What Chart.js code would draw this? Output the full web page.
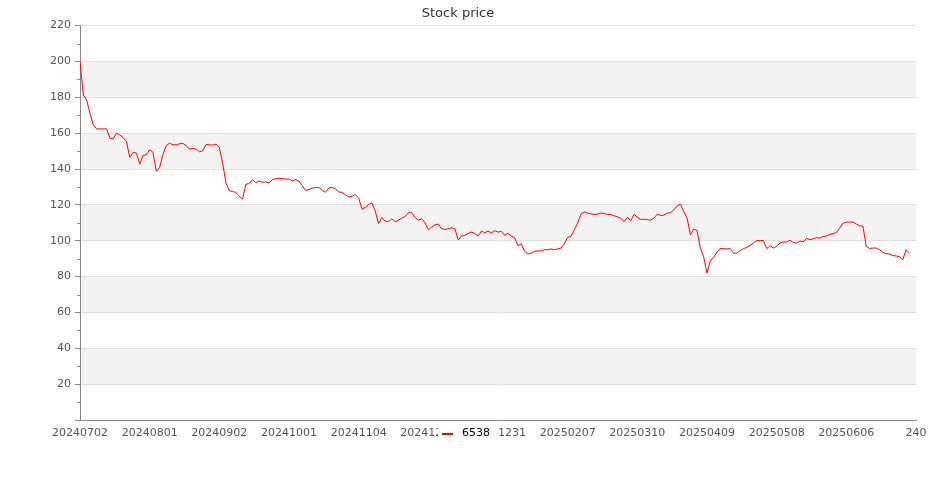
<!DOCTYPE html>
<html>
<head>
<meta charset="utf-8">
<script src="https://cdn.jsdelivr.net/npm/chart.js@4.4.1/dist/chart.umd.min.js"></script>
<style>
  body { margin: 0; background: #fff; }
</style>
</head>
<body>
<canvas id="myChart" width="935" height="500"></canvas>
<script>
// tick labels under the x axis, one every 21 trading days
const tickLabels = [
    '20240702', '20240801', '20240902', '20241001', '20241104', '20241203',
    '20241231', '20250207', '20250310', '20250409', '20250508', '20250606', '240',
];
const tickStep = 21;
const seriesName = '6538';
// daily close
const prices = [
    200, 181.3, 178.5, 171.1, 164.6, 162.4, 162.4, 162.4, 162.4, 157.2,
    156.9, 160, 159, 157.6, 155.4, 146.5, 149.3, 148.9, 142.8, 147.6,
    148, 150.7, 149.4, 138.7, 140.9, 148, 153.1, 154.4, 153.5, 153.5,
    154.1, 154.3, 153.1, 151.1, 151.5, 151.1, 149.6, 150.2, 153.7, 153.5,
    153.3, 153.9, 152, 143.3, 132.2, 128, 127.4, 127, 124.8, 123.3,
    131.5, 131.9, 134, 132.4, 133.3, 132.6, 132.8, 132.2, 134.1, 134.6,
    134.8, 134.6, 134.4, 134.4, 133.3, 134.1, 133.3, 130.7, 128.1, 128.5,
    129.4, 129.6, 129.8, 128.1, 127, 129.4, 129.8, 128.9, 127.2, 127,
    125.6, 124.4, 124.8, 125.7, 123.9, 117.8, 118.5, 120.2, 121.1, 116.5,
    109.6, 113, 110.9, 110.7, 112.2, 110.6, 111.5, 112.6, 113.5, 115.6,
    115.6, 113, 111.5, 112.2, 110, 106.1, 107.6, 108.9, 109.3, 106.7,
    106.3, 106.7, 107.2, 106.7, 100.4, 102.6, 103, 104.1, 104.8, 104.1,
    102.6, 105.4, 104.4, 105.4, 104.4, 105.6, 104.8, 105.2, 103.1, 104.1,
    102.6, 101.7, 97.2, 98.3, 94.1, 92.6, 93.1, 94.1, 94.3, 94.3,
    95, 95, 95.4, 95, 95.4, 95.9, 98.3, 101.9, 102.4, 106.1,
    109.8, 114.8, 116.1, 115.4, 115, 114.6, 114.8, 115.4, 115.2, 114.6,
    114.6, 113.9, 113.3, 112.6, 110.6, 113.1, 111.1, 114.8, 113.1, 111.9,
    112, 111.7, 111.5, 112.6, 114.8, 114.1, 114.3, 115.4, 115.6, 117.2,
    119.4, 120.4, 116.3, 112.6, 103.3, 106.5, 105.7, 95.9, 91, 82,
    89, 90.7, 93.7, 95.7, 95.6, 95.4, 95.6, 93.1, 93, 94.6,
    95.6, 96.3, 97.4, 98.7, 100.2, 100, 100.2, 95.6, 97.2, 95.9,
    96.9, 98.7, 99.3, 99.3, 100.2, 99.1, 98.7, 99.8, 99.4, 101.3,
    100.6, 101.1, 101.7, 101.5, 102.4, 102.6, 103.5, 103.9, 104.6, 107,
    109.8, 110.4, 110.4, 110.4, 109.3, 108.3, 108.1, 96.9, 95.7, 95.9,
    95.9, 95, 93.5, 92.8, 92.6, 91.7, 91.5, 91.1, 89.4, 95, 93.1,
];

Chart.defaults.font.family = '"DejaVu Sans", sans-serif';

// grey bands every other 20 step
const bands = {
    id: 'bands',
    beforeDraw(chart) {
        const { ctx, chartArea: a, scales: { y } } = chart;
        ctx.save();
        ctx.fillStyle = '#f3f3f3';
        for (let v = 20; v < y.max; v += 40) {
            const top = y.getPixelForValue(v + 20);
            const bottom = y.getPixelForValue(v);
            ctx.fillRect(a.left, top, a.right - a.left, bottom - top);
        }
        ctx.restore();
    }
};

// short minor ticks + legend drawn over the axis labels
const overlay = {
    id: 'overlay',
    afterDraw(chart) {
        const { ctx, chartArea: a, scales: { y } } = chart;
        ctx.save();
        ctx.strokeStyle = '#888';
        ctx.lineWidth = 1;
        y.ticks.forEach(t => {
            if (t.value % 20 !== 0) {
                const py = Math.round(y.getPixelForValue(t.value)) + 0.5;
                ctx.beginPath();
                ctx.moveTo(a.left - 3, py);
                ctx.lineTo(a.left, py);
                ctx.stroke();
            }
        });

        const ds = chart.data.datasets[0];
        ctx.fillStyle = '#fff';
        ctx.fillRect(438, 426, 59, 16);
        ctx.strokeStyle = ds.borderColor;
        ctx.lineWidth = 2;
        ctx.beginPath();
        ctx.moveTo(442, 434);
        ctx.lineTo(453, 434);
        ctx.stroke();
        ctx.fillStyle = '#000';
        ctx.font = '11px "DejaVu Sans"';
        ctx.textBaseline = 'middle';
        ctx.fillText(ds.label, 462, 433);
        ctx.restore();
    }
};

const ctx = document.getElementById('myChart').getContext('2d');
const myChart = new Chart(ctx, {
    type: 'line',
    data: {
        datasets: [{
            label: seriesName,
            data: prices.map((v, i) => ({ x: i, y: v })),
            borderColor: '#ff0000',
            borderWidth: 1,
            pointRadius: 0,
            tension: 0,
            fill: false,
        }],
    },
    options: {
        responsive: false,
        animation: false,
        layout: { padding: { left: 0, right: 19, top: 0, bottom: 0 } },
        plugins: {
            legend: { display: false },
            tooltip: { enabled: false },
            title: {
                display: true,
                text: 'Stock price',
                color: '#333',
                font: { size: 13, weight: 'normal' },
                padding: { top: 6, bottom: 4 },
            },
        },
        scales: {
            x: {
                type: 'linear',
                min: 0,
                max: tickStep * (tickLabels.length - 1),
                afterBuildTicks: (s) => {
                    s.ticks = tickLabels.map((_, k) => ({ value: k * tickStep }));
                },
                afterFit: (s) => { s.height = 80; },
                ticks: {
                    autoSkip: false,
                    maxRotation: 0,
                    color: '#555',
                    font: { size: 11 },
                    padding: 7,
                    callback: (v) => tickLabels[Math.round(v / tickStep)],
                },
                grid: { display: false, drawTicks: false },
                border: { color: '#888' },
            },
            y: {
                min: 0,
                max: 220,
                afterFit: (s) => { s.width = 80; },
                ticks: {
                    stepSize: 10,
                    autoSkip: false,
                    color: '#555',
                    font: { size: 11 },
                    padding: 4,
                    callback: (v) => (v > 0 && v % 20 === 0) ? v : '',
                },
                grid: {
                    color: (c) => (c.tick && c.tick.value > 0 && c.tick.value % 20 === 0) ? '#e0e0e0' : 'rgba(0,0,0,0)',
                    tickLength: 5,
                    tickColor: (c) => (c.tick && c.tick.value % 20 === 0) ? '#888' : 'rgba(0,0,0,0)',
                },
                border: { color: '#888' },
            },
        },
    },
    plugins: [bands, overlay],
});
</script>
</body>
</html>
